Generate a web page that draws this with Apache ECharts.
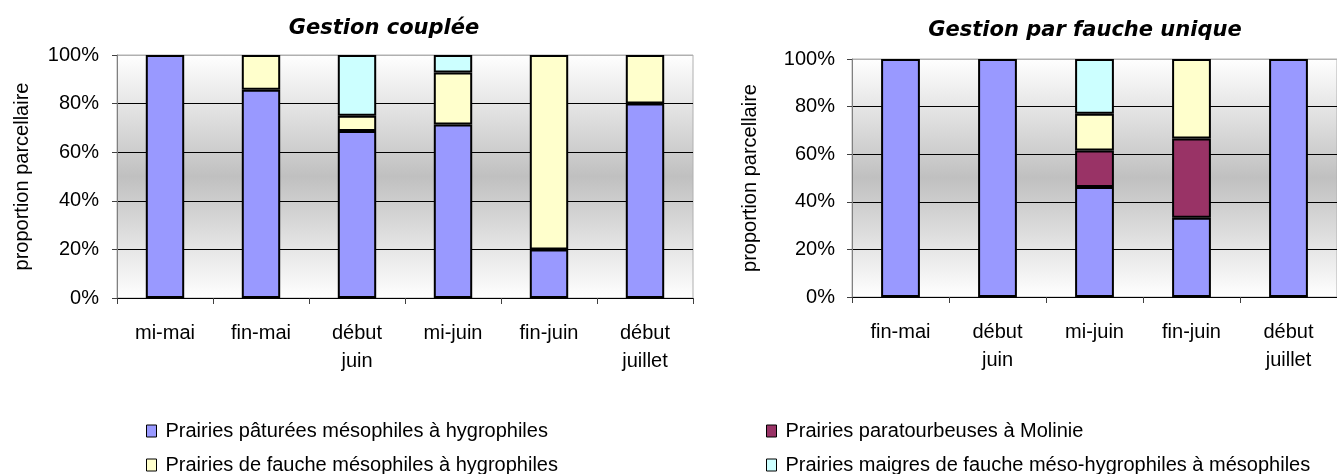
<!DOCTYPE html>
<html>
<head>
<meta charset="utf-8">
<title>Gestion couplée / fauche unique</title>
<script src="https://cdn.jsdelivr.net/npm/echarts@6/dist/echarts.min.js"></script>
<style>
  html, body { margin: 0; padding: 0; background: #fff; }
  #chart { width: 1337px; height: 474px; }
</style>
</head>
<body>
<div id="chart"></div>
<script>
// categories
const catCouplee = ['mi-mai', 'fin-mai', 'début\njuin', 'mi-juin', 'fin-juin', 'début\njuillet'];
const catFauche = ['fin-mai', 'début\njuin', 'mi-juin', 'fin-juin', 'début\njuillet'];

// series names (legend)
const namePaturees = 'Prairies pâturées mésophiles à hygrophiles';
const nameParatourb = 'Prairies paratourbeuses à Molinie';
const nameFaucheMeso = 'Prairies de fauche mésophiles à hygrophiles';
const nameMaigres = 'Prairies maigres de fauche méso-hygrophiles à mésophiles';

// proportions (%) - gestion couplée
const couplePaturees = [100, 85.7, 68.75, 71.4, 20, 80];
const coupleParatourb = [0, 0, 0, 0, 0, 0];
const coupleFaucheMeso = [0, 14.3, 6.25, 21.4, 80, 20];
const coupleMaigres = [0, 0, 25, 7.2, 0, 0];

// proportions (%) - gestion par fauche unique
const faucheUPaturees = [100, 100, 46.2, 33.3, 100];
const faucheUParatourb = [0, 0, 15.4, 33.3, 0];
const faucheUFaucheMeso = [0, 0, 15.4, 33.4, 0];
const faucheUMaigres = [0, 0, 23.0, 0, 0];

const yTicks = [0, 20, 40, 60, 80, 100];

const colors = {
  paturees: '#9999ff',
  paratourb: '#993366',
  faucheMeso: '#ffffcc',
  maigres: '#ccffff'
};

const font = '"Liberation Sans", Arial, sans-serif';
const titleFont = '"DejaVu Sans", Verdana, sans-serif';
const fontSize = 20;

const chart = echarts.init(document.getElementById('chart'));

function plotBg () {
  return {
    type: 'linear', x: 0, y: 0, x2: 0, y2: 1,
    colorStops: [
      { offset: 0, color: '#ffffff' },
      { offset: 0.5, color: '#c0c0c0' },
      { offset: 1, color: '#ffffff' }
    ]
  };
}

function xAxis (idx, data) {
  return {
    type: 'category',
    gridIndex: idx,
    data: data,
    axisLine: { lineStyle: { color: '#000', width: 1 } },
    axisTick: { show: true, alignWithLabel: false, length: 6, lineStyle: { color: '#404040' } },
    axisLabel: {
      color: '#000', fontFamily: font, fontSize: fontSize,
      lineHeight: 28, margin: 21, interval: 0
    }
  };
}

function yAxis (idx, gap, labelMargin) {
  return {
    type: 'value',
    gridIndex: idx,
    min: 0,
    max: yTicks[yTicks.length - 1],
    interval: 20,
    name: 'proportion parcellaire',
    nameLocation: 'middle',
    nameRotate: 90,
    nameGap: gap,
    nameTextStyle: { color: '#000', fontFamily: font, fontSize: fontSize },
    axisLine: { show: true, lineStyle: { color: '#808080' } },
    axisTick: { show: true, length: 5, lineStyle: { color: '#404040' } },
    axisLabel: {
      color: '#000', fontFamily: font, fontSize: fontSize, margin: labelMargin,
      formatter: '{value}%'
    },
    splitLine: {
      show: true,
      lineStyle: { color: ['#000', '#000', '#000', '#000', '#000', '#b0b0b0'], width: 1 }
    }
  };
}

function bar (name, color, idx, data) {
  return {
    name: name,
    type: 'bar',
    stack: 'g' + idx,
    xAxisIndex: idx,
    yAxisIndex: idx,
    barWidth: '40%',
    itemStyle: { color: color, borderColor: '#000', borderWidth: 2 },
    // empty segments are left out so they don't draw an extra border line
    data: data.map(v => (v === 0 ? '-' : v))
  };
}

// one legend block per item so the 2x2 layout is fixed
function legendItem (name, left, top) {
  return {
    left: left, top: top,
    icon: 'rect', itemWidth: 10, itemHeight: 12,
    itemStyle: { borderColor: '#000', borderWidth: 1 },
    textStyle: { fontFamily: font, fontSize: fontSize, color: '#000', padding: [0, 0, 0, 4] },
    data: [name]
  };
}

const option = {
  backgroundColor: '#fff',
  animation: false,
  title: [
    {
      text: 'Gestion couplée',
      left: 379, top: 13, textAlign: 'center',
      textStyle: { fontFamily: titleFont, fontSize: 21, fontWeight: 'bold', fontStyle: 'italic', color: '#000' }
    },
    {
      text: 'Gestion par fauche unique',
      left: 1080, top: 15, textAlign: 'center',
      textStyle: { fontFamily: titleFont, fontSize: 21, fontWeight: 'bold', fontStyle: 'italic', color: '#000' }
    }
  ],
  legend: [
    legendItem(namePaturees, 141, 416),
    legendItem(nameFaucheMeso, 141, 450),
    legendItem(nameParatourb, 761, 416),
    legendItem(nameMaigres, 761, 450)
  ],
  grid: [
    { left: 117, top: 55, width: 576, height: 243, show: true, backgroundColor: plotBg(), borderColor: '#b0b0b0', borderWidth: 1 },
    { left: 852, top: 59, width: 489, height: 238, show: true, backgroundColor: plotBg(), borderColor: '#b0b0b0', borderWidth: 1 }
  ],
  xAxis: [xAxis(0, catCouplee), xAxis(1, catFauche)],
  yAxis: [yAxis(0, 85, 18), yAxis(1, 92, 17)],
  series: [
    bar(namePaturees, colors.paturees, 0, couplePaturees),
    bar(nameParatourb, colors.paratourb, 0, coupleParatourb),
    bar(nameFaucheMeso, colors.faucheMeso, 0, coupleFaucheMeso),
    bar(nameMaigres, colors.maigres, 0, coupleMaigres),
    bar(namePaturees, colors.paturees, 1, faucheUPaturees),
    bar(nameParatourb, colors.paratourb, 1, faucheUParatourb),
    bar(nameFaucheMeso, colors.faucheMeso, 1, faucheUFaucheMeso),
    bar(nameMaigres, colors.maigres, 1, faucheUMaigres)
  ]
};

chart.setOption(option);
</script>
</body>
</html>
